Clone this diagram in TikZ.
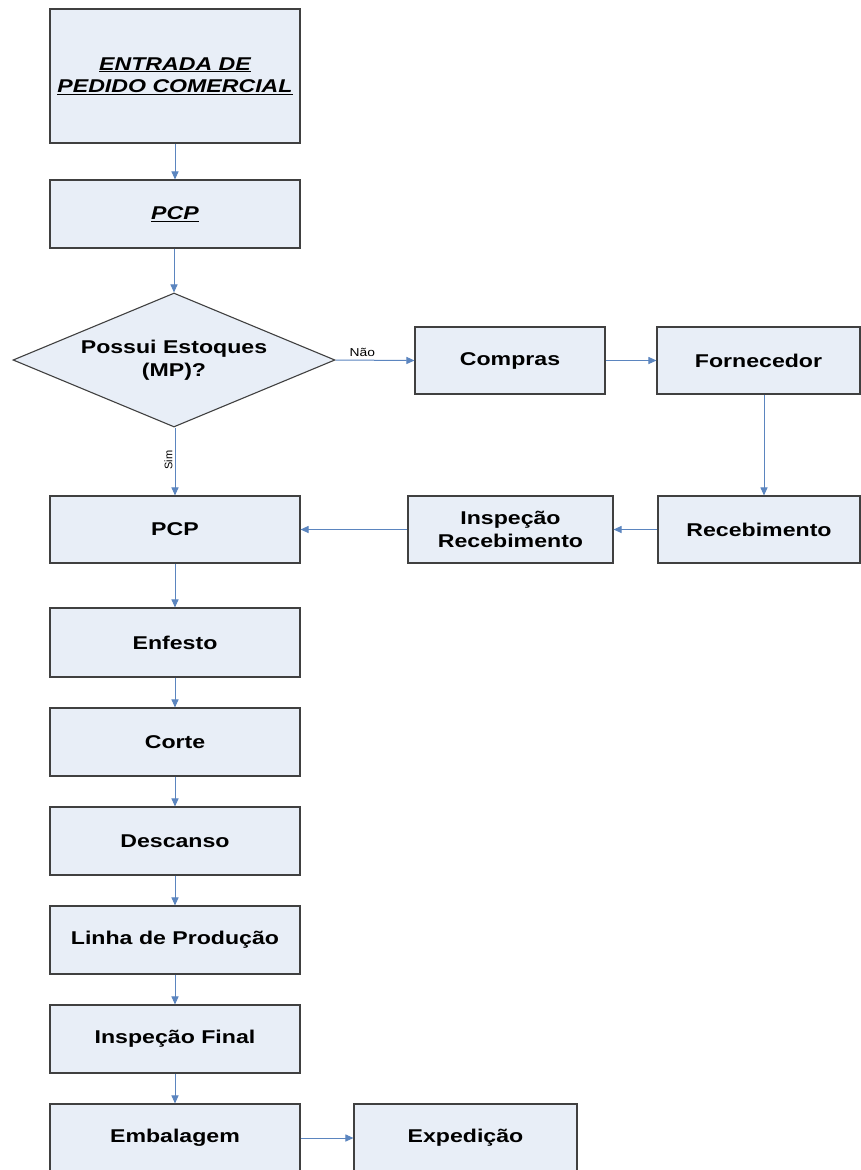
\documentclass[tikz,border=0pt]{standalone}
\usepackage{fontspec}
\setmainfont{Liberation Sans}[FakeStretch=1.25]
\newfontfamily\plainfont{Liberation Sans}[FakeStretch=1.2]
\newfontfamily\simfont{Liberation Sans}
\usetikzlibrary{shapes.geometric,arrows.meta}
\definecolor{boxfill}{HTML}{E8EEF7}
\definecolor{boxline}{HTML}{404040}
\definecolor{arrcol}{HTML}{5B85BF}
\begin{document}
\begin{tikzpicture}[x=1pt,y=-1pt,
  procbox/.style={draw=boxline,line width=1.1pt,fill=boxfill,inner sep=0pt,
    minimum width=250pt,minimum height=68pt,align=center,
    font=\fontsize{18.5}{22.5}\selectfont\bfseries},
  decbox/.style={diamond,aspect=2.4,draw=boxline,line width=1.1pt,fill=boxfill,inner sep=0pt,
    minimum width=322pt,minimum height=134pt,align=center,
    font=\fontsize{18.5}{22.5}\selectfont\bfseries},
  arr/.style={draw=arrcol,line width=1pt,-{Triangle[length=8pt,width=7pt]}},
  lbl/.style={inner sep=0pt}]
\useasboundingbox (0,0) rectangle (861,1170);
\fill[white] (0,0) rectangle (861,1170);

\node[procbox,minimum height=134pt] (entrada) at (175,76)
  {\itshape\underline{ENTRADA DE}\\\itshape\underline{PEDIDO COMERCIAL}};
\node[procbox] (pcp1) at (175,214) {\itshape\underline{PCP}};
\node[decbox] (dec) at (174,360) {Possui Estoques\\(MP)?};
\node[procbox,minimum width=190pt,minimum height=67pt] (compras) at (510,360.5) {Compras};
\node[procbox,minimum width=203pt,minimum height=67pt] (forn) at (758.5,360.5) {Fornecedor};
\node[procbox,minimum width=202pt,minimum height=67pt] (receb) at (759,529.5) {Recebimento};
\node[procbox,minimum width=205pt,minimum height=67pt] (insprec) at (510.5,529.5) {Inspeção\\Recebimento};
\node[procbox,minimum height=67pt] (pcp2) at (175,529.5) {PCP};
\node[procbox,minimum height=69pt] (enfesto) at (175,642.5) {Enfesto};
\node[procbox] (corte) at (175,742) {Corte};
\node[procbox] (descanso) at (175,841) {Descanso};
\node[procbox] (linha) at (175,940) {Linha de Produção};
\node[procbox] (inspfin) at (175,1039) {Inspeção Final};
\node[procbox] (embal) at (175,1138) {Embalagem};
\node[procbox,minimum width=223pt] (exped) at (465.5,1138) {Expedição};

\draw[arr] (entrada) -- (pcp1);
\draw[arr] (pcp1.south -| dec.north) -- (dec.north);
\draw[arr] (dec.east) -- node[lbl,above=3pt,pos=0.34]{\plainfont\fontsize{11.5}{13}\selectfont Não} (compras.west);
\draw[arr] (compras) -- (forn);
\draw[arr] ([xshift=5.5pt]forn.south) -- ([xshift=5pt]receb.north);
\draw[arr] (receb) -- (insprec);
\draw[arr] (insprec) -- (pcp2);
\draw[arr] (dec.south -| pcp2.north) -- node[lbl,left=2pt,pos=0.48,rotate=90,anchor=south]{\simfont\fontsize{11}{12}\selectfont Sim} (pcp2.north);
\draw[arr] (pcp2) -- (enfesto);
\draw[arr] (enfesto) -- (corte);
\draw[arr] (corte) -- (descanso);
\draw[arr] (descanso) -- (linha);
\draw[arr] (linha) -- (inspfin);
\draw[arr] (inspfin) -- (embal);
\draw[arr] (embal) -- (exped);
\end{tikzpicture}
\end{document}
